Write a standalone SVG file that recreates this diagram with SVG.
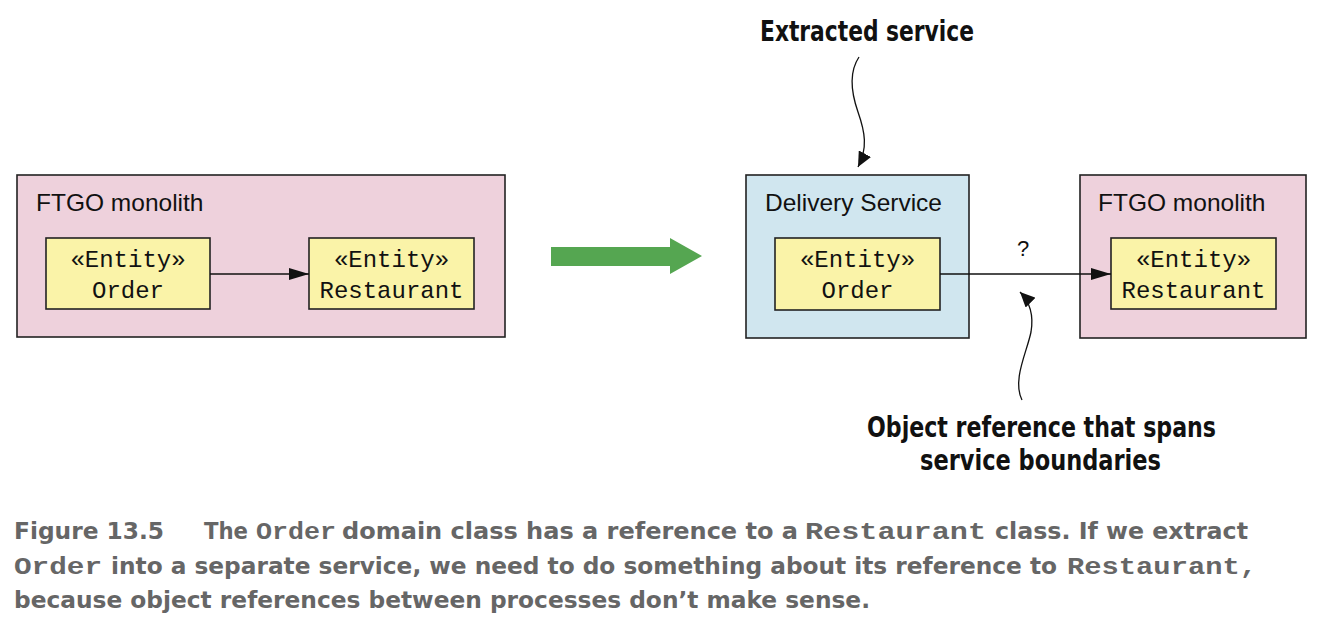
<svg xmlns="http://www.w3.org/2000/svg" width="1324" height="630" viewBox="0 0 1324 630">
<defs>
<style>
.mono{fill:#eed1dc;stroke:#222;stroke-width:1.6}
.svc{fill:#d0e6ef;stroke:#222;stroke-width:1.6}
.ent{fill:#faf3a8;stroke:#222;stroke-width:1.6}
.title{font-family:"Liberation Sans",Arial,sans-serif;font-size:24.5px;fill:#111}
.etxt{font-family:"Liberation Mono","Courier New",monospace;font-size:24px;fill:#111;text-anchor:middle}
.conn{fill:none;stroke:#111;stroke-width:1.5}
.curve{fill:none;stroke:#111;stroke-width:1.3}
.ann{font-family:"DejaVu Sans",sans-serif;font-stretch:condensed;font-weight:bold;font-size:28px;fill:#111}
.cap{font-family:"DejaVu Sans",sans-serif;font-stretch:condensed;font-weight:bold;font-size:23.5px;fill:#666}
.capm{font-family:"Liberation Mono","Courier New",monospace;font-weight:bold;font-size:24px;fill:#666}
</style>
<marker id="ah" markerUnits="userSpaceOnUse" markerWidth="20" markerHeight="12" refX="20" refY="6" orient="auto">
<path d="M0,0 L20,6 L0,12 z" fill="#111"/>
</marker>
<marker id="ah2" markerUnits="userSpaceOnUse" markerWidth="16" markerHeight="14" refX="15" refY="7" orient="auto">
<path d="M0,0 L15,7 L0,14 z" fill="#111"/>
</marker>
</defs>
<rect width="1324" height="630" fill="#fff"/>

<g id="left-monolith">
<rect class="mono" x="17" y="175" width="488" height="162"/>
<text class="title" x="36" y="211">FTGO monolith</text>
</g>
<g id="left-order">
<rect class="ent" x="46" y="238" width="164" height="71"/>
<text class="etxt" x="128" y="267">«Entity»</text>
<text class="etxt" x="128" y="298">Order</text>
</g>
<g id="left-restaurant">
<rect class="ent" x="309" y="238" width="165" height="71"/>
<text class="etxt" x="391.5" y="267">«Entity»</text>
<text class="etxt" x="391.5" y="298">Restaurant</text>
</g>

<g id="transform-arrow">
<polygon points="551,247 670,247 670,238 702,256 670,274 670,266 551,266" fill="#55a651"/>
</g>

<g id="delivery-service">
<rect class="svc" x="746" y="175" width="223" height="163"/>
<text class="title" x="765" y="211">Delivery Service</text>
</g>
<g id="ds-order">
<rect class="ent" x="775" y="238" width="165" height="72"/>
<text class="etxt" x="857.5" y="267">«Entity»</text>
<text class="etxt" x="857.5" y="298">Order</text>
</g>

<g id="right-monolith">
<rect class="mono" x="1080" y="175" width="226" height="163"/>
<text class="title" x="1098" y="211">FTGO monolith</text>
</g>
<g id="right-restaurant">
<rect class="ent" x="1111" y="238" width="165" height="71"/>
<text class="etxt" x="1193.5" y="267">«Entity»</text>
<text class="etxt" x="1193.5" y="298">Restaurant</text>
</g>

<g id="connectors">
<line class="conn" x1="210" y1="274" x2="309" y2="274" marker-end="url(#ah)"/>
<line class="conn" x1="940" y1="274" x2="1111" y2="274" marker-end="url(#ah)"/>
<path class="curve" d="M859,57 C849,72 851,92 858,112 C865,132 868,148 858,167" marker-end="url(#ah2)"/>
<path class="curve" d="M1022,400 C1012,380 1027,352 1031,332 C1034,314 1030,302 1020,292" marker-end="url(#ah2)"/>
<text x="1023" y="256" text-anchor="middle" font-family="Liberation Sans, Arial, sans-serif" font-size="22" fill="#111">?</text>
</g>

<g id="annotations">
<text class="ann" x="760" y="41" textLength="214" lengthAdjust="spacingAndGlyphs">Extracted service</text>
<text class="ann" x="867" y="437" textLength="349" lengthAdjust="spacingAndGlyphs">Object reference that spans</text>
<text class="ann" x="920" y="470" textLength="241" lengthAdjust="spacingAndGlyphs">service boundaries</text>
</g>

<g id="caption">
<text class="cap" x="14" y="539" textLength="150" lengthAdjust="spacingAndGlyphs">Figure 13.5</text>
<text class="cap" x="204" y="539" textLength="44" lengthAdjust="spacingAndGlyphs">The</text>
<text class="capm" x="256" y="539" textLength="80" lengthAdjust="spacingAndGlyphs">Order</text>
<text class="cap" x="342" y="539" textLength="456" lengthAdjust="spacingAndGlyphs">domain class has a reference to a</text>
<text class="capm" x="805" y="539" textLength="181" lengthAdjust="spacingAndGlyphs">Restaurant</text>
<text class="cap" x="995" y="539" textLength="253" lengthAdjust="spacingAndGlyphs">class. If we extract</text>
<text class="capm" x="14" y="574" textLength="88" lengthAdjust="spacingAndGlyphs">Order</text>
<text class="cap" x="111" y="574" textLength="946" lengthAdjust="spacingAndGlyphs">into a separate service, we need to do something about its reference to</text>
<text class="capm" x="1067" y="574" textLength="190" lengthAdjust="spacingAndGlyphs">Restaurant,</text>
<text class="cap" x="14" y="608" textLength="856" lengthAdjust="spacingAndGlyphs">because object references between processes don’t make sense.</text>
</g>
</svg>
